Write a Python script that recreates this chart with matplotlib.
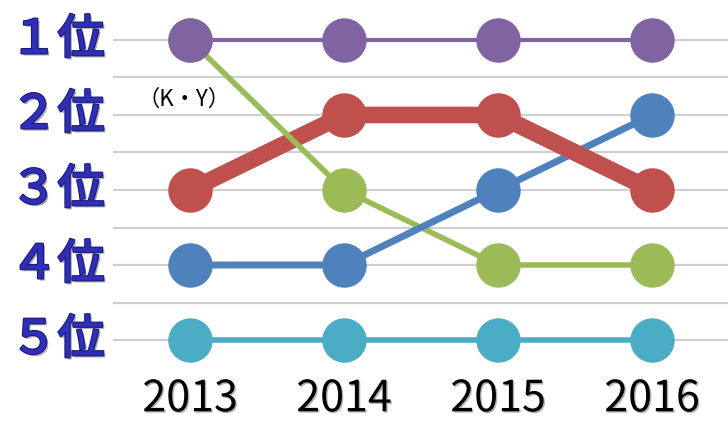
import matplotlib.pyplot as plt
import matplotlib.patheffects as pe
import numpy as np

plt.rcParams['font.family'] = ['Noto Sans CJK JP', 'DejaVu Sans']

years = [2013, 2014, 2015, 2016]
rank_labels = ['１位', '２位', '３位', '４位', '５位']

# 順位データ
purple = [1, 1, 1, 1]
red = [3, 2, 2, 3]
blue = [4, 4, 3, 2]
green = [1, 3, 4, 4]
teal = [5, 5, 5, 5]

fig = plt.figure(figsize=(7.28, 4.25), dpi=100)
ax = fig.add_axes([0, 0, 1, 1])
ax.set_xlim(2011.766, 2016.494)
ax.set_ylim(6.133, 0.467)
ax.axis('off')

# 横の罫線（順位と中間）
grid_y = np.arange(1, 5.01, 0.5)
ax.hlines(grid_y, 2012.5, 2016.494, color='#cfcfcf', lw=1.5, zorder=1)

# 線（重なり順も元図に合わせる）
ax.plot(years, teal, color='#4bacc6', lw=4, zorder=2, solid_capstyle='butt')
ax.plot(years, red, color='#c0504d', lw=12, zorder=3, solid_capstyle='butt')
ax.plot(years, green, color='#9bbb59', lw=4, zorder=4, solid_capstyle='butt')
ax.plot(years, blue, color='#4f81bd', lw=5, zorder=5, solid_capstyle='butt')
ax.plot(years[2:], red[2:], color='#c0504d', lw=12, zorder=5.5, solid_capstyle='butt')
ax.plot(years, purple, color='#8064a2', lw=3, zorder=6, solid_capstyle='butt')

# マーカー
ms = 32
for vals, c, z in [(teal, '#4bacc6', 10), (red, '#c0504d', 11), (green, '#9bbb59', 12),
                   (blue, '#4f81bd', 13), (purple, '#8064a2', 14)]:
    ax.plot(years, vals, 'o', ms=ms, color=c, mec='none', zorder=z)

# 順位ラベル
for i, lab in enumerate(rank_labels):
    ax.text(2012.14, i + 1, lab, fontsize=34, fontweight='medium', color='#2e2eb8',
            ha='center', va='center', zorder=20,
            path_effects=[pe.withSimplePatchShadow(offset=(1.5, -1.5), shadow_rgbFace='#555555', alpha=0.5),
                          pe.withStroke(linewidth=1.5, foreground='#1a1a78')])

# 年ラベル
for y in years:
    ax.text(y, 5.79, str(y), fontsize=31, color='black', ha='center', va='center',
            path_effects=[pe.withSimplePatchShadow(offset=(1, -1), alpha=0.3)])

ax.text(2012.96, 1.79, '（K・Y）', fontsize=16, color='black', ha='center', va='center', zorder=20)

fig.savefig('out.png', dpi=100)
